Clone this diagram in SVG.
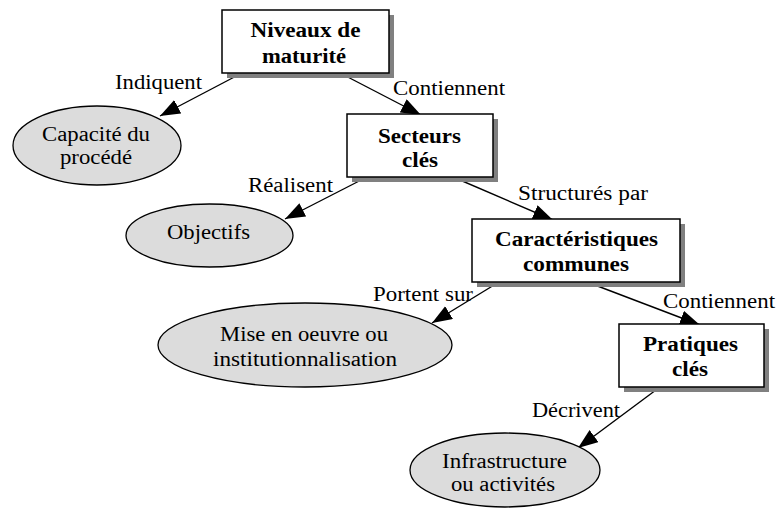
<svg xmlns="http://www.w3.org/2000/svg" width="778" height="511" viewBox="0 0 778 511" font-family="'Liberation Serif', 'Times New Roman', serif" font-size="20">
  <defs>
    <marker id="arrow" markerUnits="userSpaceOnUse" markerWidth="21" markerHeight="16" refX="20" refY="7.5" orient="auto">
      <path d="M0,0 L20,7.5 L0,15 z" fill="#000"/>
    </marker>
    <style>
      .l, .c { font-family: "Liberation Serif", "Times New Roman", serif; font-size: 20px; fill: #000; }
      .c { text-anchor: middle; }
      .bold { font-weight: bold; }
      .shadow { fill: #808080; stroke: none; }
      .box { fill: #fff; stroke: #000; stroke-width: 1.5; }
      .oval { fill: #dcdcdc; stroke: #000; stroke-width: 1.3; }
      .edge { fill: none; stroke: #000; stroke-width: 1.4; marker-end: url(#arrow); }
    </style>
  </defs>
  <rect width="778" height="511" fill="#fff"/>

  <!-- connectors, drawn first so the boxes sit over the arrow tips -->
  <g id="connectors">
    <line class="edge" x1="242" y1="73" x2="160" y2="116"/>
    <line class="edge" x1="340" y1="73" x2="421" y2="115"/>
    <line class="edge" x1="367" y1="177" x2="285" y2="219"/>
    <line class="edge" x1="453" y1="177" x2="553" y2="220"/>
    <line class="edge" x1="499" y1="282" x2="432" y2="323"/>
    <line class="edge" x1="587" y1="282" x2="700" y2="325"/>
    <line class="edge" x1="660" y1="387" x2="578" y2="448"/>
    <text class="l" x="115" y="89" textLength="87" lengthAdjust="spacingAndGlyphs">Indiquent</text>
    <text class="l" x="393" y="95" textLength="112" lengthAdjust="spacingAndGlyphs">Contiennent</text>
    <text class="l" x="248" y="192" textLength="85" lengthAdjust="spacingAndGlyphs">Réalisent</text>
    <text class="l" x="518" y="200" textLength="130" lengthAdjust="spacingAndGlyphs">Structurés par</text>
    <text class="l" x="373" y="301" textLength="100" lengthAdjust="spacingAndGlyphs">Portent sur</text>
    <text class="l" x="663" y="308" textLength="112" lengthAdjust="spacingAndGlyphs">Contiennent</text>
    <text class="l" x="532" y="417" textLength="88" lengthAdjust="spacingAndGlyphs">Décrivent</text>
  </g>

  <g id="niveaux">
    <rect class="shadow" x="227" y="15" width="167" height="63"/>
    <rect class="box" x="222" y="10" width="167" height="63"/>
    <text class="bold c" x="305.5" y="37" textLength="110" lengthAdjust="spacingAndGlyphs">Niveaux de</text>
    <text class="bold c" x="304" y="62.5" textLength="84" lengthAdjust="spacingAndGlyphs">maturité</text>
  </g>

  <g id="secteurs">
    <rect class="shadow" x="352" y="119" width="146" height="63"/>
    <rect class="box" x="347" y="114" width="146" height="63"/>
    <text class="bold c" x="419.5" y="143" textLength="83" lengthAdjust="spacingAndGlyphs">Secteurs</text>
    <text class="bold c" x="420" y="167" textLength="36" lengthAdjust="spacingAndGlyphs">clés</text>
  </g>

  <g id="caracteristiques">
    <rect class="shadow" x="477" y="224" width="208" height="63"/>
    <rect class="box" x="472" y="219" width="208" height="63"/>
    <text class="bold c" x="576.5" y="246" textLength="163" lengthAdjust="spacingAndGlyphs">Caractéristiques</text>
    <text class="bold c" x="576" y="271" textLength="106" lengthAdjust="spacingAndGlyphs">communes</text>
  </g>

  <g id="pratiques">
    <rect class="shadow" x="624" y="329" width="145" height="63"/>
    <rect class="box" x="619" y="324" width="145" height="63"/>
    <text class="bold c" x="690.5" y="351" textLength="95" lengthAdjust="spacingAndGlyphs">Pratiques</text>
    <text class="bold c" x="690" y="376" textLength="36" lengthAdjust="spacingAndGlyphs">clés</text>
  </g>

  <g id="capacite">
    <ellipse class="oval" cx="97" cy="145.5" rx="84" ry="39.5"/>
    <text class="c" x="96" y="141" textLength="108" lengthAdjust="spacingAndGlyphs">Capacité du</text>
    <text class="c" x="96" y="164" textLength="72" lengthAdjust="spacingAndGlyphs">procédé</text>
  </g>

  <g id="objectifs">
    <ellipse class="oval" cx="209.5" cy="235.5" rx="83.5" ry="31.5"/>
    <text class="c" x="208.5" y="239" textLength="83" lengthAdjust="spacingAndGlyphs">Objectifs</text>
  </g>

  <g id="mise-en-oeuvre">
    <ellipse class="oval" cx="305" cy="345" rx="147" ry="42"/>
    <text class="c" x="304" y="341" textLength="168" lengthAdjust="spacingAndGlyphs">Mise en oeuvre ou</text>
    <text class="c" x="305" y="366" textLength="184" lengthAdjust="spacingAndGlyphs">institutionnalisation</text>
  </g>

  <g id="infrastructure">
    <ellipse class="oval" cx="505" cy="470" rx="95" ry="37"/>
    <text class="c" x="504.5" y="468" textLength="125" lengthAdjust="spacingAndGlyphs">Infrastructure</text>
    <text class="c" x="503" y="491" textLength="104" lengthAdjust="spacingAndGlyphs">ou activités</text>
  </g>
</svg>
